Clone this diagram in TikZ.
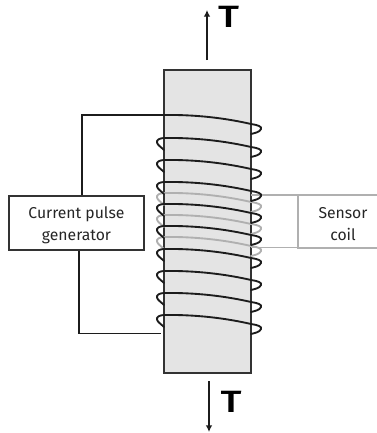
\documentclass[tikz,border=0pt]{standalone}
\usepackage{fontspec}
\setmainfont{Fira Sans}
\newfontfamily\tfont{Fira Sans Medium}
\usetikzlibrary{arrows.meta}
\definecolor{wire}{HTML}{1C1C1C}
\definecolor{greywire}{HTML}{B0B0B0}
\definecolor{barfill}{HTML}{E4E4E4}
\definecolor{barline}{HTML}{333333}
\tikzset{
  x=0.75pt,y=-0.75pt,
  wireline/.style={draw=wire,line width=1.4pt},
  sensorline/.style={draw=greywire,line width=1.4pt},
  boxlabel/.style={font=\fontsize{11.8pt}{16.5pt}\selectfont,align=center,text=black!85},
  pull/.style={draw=wire,line width=1.1pt,-{Latex[length=5pt,width=5pt]}},
  tlabel/.style={font=\fontsize{22pt}{22pt}\selectfont\tfont,text=black,inner sep=0pt}
}
\newcommand{\coilturn}[2]{%
  \draw[#2,line cap=round] (164,#1) .. controls (195,#1-0.5) and (225,#1+3) .. (251,#1+9)
    .. controls (258,#1+10) and (262,#1+11.5) .. (261,#1+14)
    .. controls (260,#1+17) and (255,#1+18) .. (251,#1+19);}
\newcommand{\coilback}[2]{%
  \draw[#2,line cap=round] (164,#1) .. controls (159,#1+0.3) and (156.5,#1+2) .. (157,#1+4.5)
    .. controls (157.5,#1+7) and (161,#1+9) .. (164,#1+12);}
\begin{document}
\begin{tikzpicture}
\useasboundingbox (0,0) rectangle (377,433);
\clip (0,0) rectangle (377,433);
% bar
\node[draw=barline,fill=barfill,line width=1.2pt,minimum width=65.25pt,minimum height=227.25pt,inner sep=0pt] (bar) at (207.5,221.5) {};
% boxes
\node[draw=barline,fill=white,line width=1pt,minimum width=101.25pt,minimum height=40.5pt,inner sep=0pt,boxlabel] (gen) at (76.5,223) {\rule{0pt}{12pt}Current pulse\\generator};
\node[draw=greywire,fill=white,line width=1pt,minimum width=67.5pt,minimum height=39.75pt,inner sep=0pt,boxlabel] (sensor) at (343,221.5) {\rule{0pt}{12pt}Sensor\\coil};
% sensor coil
\foreach \y in {193,215,237}{\coilback{\y}{sensorline}\coilturn{\y}{sensorline}}
\coordinate (stop) at (251,195);
\coordinate (sbot) at (251,247.5);
\draw[sensorline] (stop) -- (stop -| sensor.west);
\draw[sensorline] (sbot) -- (sbot -| sensor.west);
% drive coil
\foreach \y in {138,160,182,204,226,249,271,293,315}{\coilback{\y}{wireline}}
\foreach \y in {115,138,160,182,204,226,249,271,293,315}{\coilturn{\y}{wireline}}
% leads
\coordinate (gtop) at (82,115);
\coordinate (gbot) at (79,333.5);
\coordinate (cin) at (164,115);
\coordinate (cout) at (161,333.5);
\draw[wireline] (gen.north -| gtop) -- (gtop) -- (cin);
\draw[wireline] (gen.south -| gbot) -- (gbot) -- (cout);
% tension arrows
\coordinate (ta) at (207,60);
\coordinate (tb) at (207,10);
\coordinate (ba) at (209,381);
\coordinate (bb) at (209,432);
\draw[pull] (ta) -- (tb);
\draw[pull] (ba) -- (bb);
\node[tlabel] (t1) at (228.5,16.5) {\scalebox{1.35}[1.05]{T}};
\node[tlabel] (t2) at (231,402) {\scalebox{1.35}[1.05]{T}};
\end{tikzpicture}
\end{document}
